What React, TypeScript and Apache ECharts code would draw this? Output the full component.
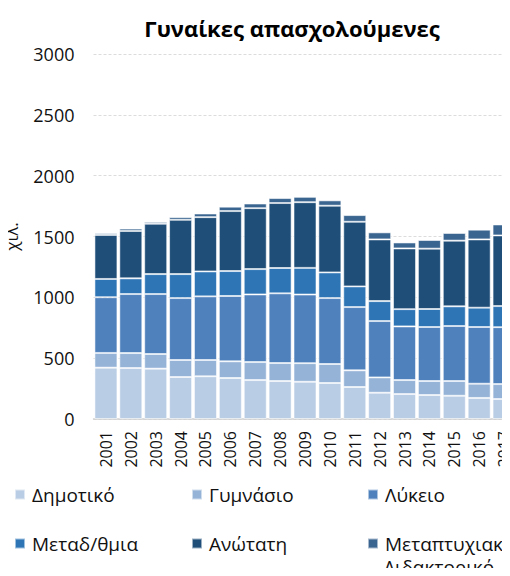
import React, { useEffect, useRef } from "react";
import * as echarts from "echarts";

const years = ["2001","2002","2003","2004","2005","2006","2007","2008","2009","2010","2011","2012","2013","2014","2015","2016","2017"];
const seriesNames = ["Δημοτικό","Γυμνάσιο","Λύκειο","Μεταδ/θμια","Ανώτατη","Μεταπτυχιακό Διδακτορικό"];
const dimotiko = [422,419,414,345,351,337,320,312,306,296,263,216,205,197,191,173,164];
const gymnasio = [121,123,120,140,134,137,148,148,153,156,137,126,115,115,121,117,123];
const lykeio = [458,485,493,509,523,537,556,573,564,542,520,463,441,444,452,466,468];
const metadthmia = [150,129,164,197,205,205,208,208,219,211,170,164,142,148,162,159,173];
const anotati = [362,389,414,446,446,493,501,534,540,548,531,507,499,496,540,561,581];
const metaptyxiako = [14,20,15,22,30,36,38,41,44,44,55,58,49,71,63,80,90];
const colors = ["#B9CDE5","#95B3D7","#4F81BD","#2E75B6","#1F4E79","#3A6590"];
const yTicks = [0, 500, 1000, 1500, 2000, 2500, 3000];

const FONT = "'Open Sans', sans-serif";

export default function App() {
  const ref = useRef<HTMLDivElement>(null);
  useEffect(() => {
    if (!ref.current) return;
    const chart = echarts.init(ref.current, undefined, { renderer: "svg" });
    const data = [dimotiko, gymnasio, lykeio, metadthmia, anotati, metaptyxiako];
    const legendPos = [
      { left: 14, top: 485 },
      { left: 191, top: 485 },
      { left: 367, top: 485 },
      { left: 14, top: 534 },
      { left: 191, top: 534 },
      { left: 367, top: 534 },
    ];
    chart.setOption({
      animation: false,
      title: {
        text: "Γυναίκες απασχολούμενες",
        left: 287,
        textAlign: "center",
        top: 12,
        textStyle: { fontFamily: FONT, fontSize: 22, fontWeight: "bold", color: "#000" },
      },
      legend: seriesNames.map((n, i) => ({
        data: [n],
        left: legendPos[i].left,
        top: legendPos[i].top,
        padding: 0,
        itemWidth: 10,
        itemHeight: 10,
        itemGap: 0,
        icon: "rect",
        formatter: (name: string) => (i === 5 ? name.split(" ")[0] : name),
        textStyle: { fontFamily: FONT, fontSize: 19, color: "#111", padding: [0, 0, 0, 2] },
      })),
      graphic: [
        {
          type: "text",
          left: 384,
          top: 557,
          style: { text: seriesNames[5].split(" ")[1], fontFamily: FONT, fontSize: 19, fill: "#111" },
        },
      ],
      grid: { left: 93.5, top: 54, width: 423, height: 365, outerBoundsMode: "none" },
      xAxis: {
        type: "category",
        data: years,
        axisLine: { lineStyle: { color: "#d0d0d0", width: 1.5 } },
        axisTick: { show: false },
        axisLabel: { rotate: 90, fontFamily: FONT, fontSize: 16, color: "#111", margin: 12 },
      },
      yAxis: {
        type: "value",
        min: yTicks[0],
        max: yTicks[yTicks.length - 1],
        interval: 500,
        name: "χιλ.",
        nameLocation: "middle",
        nameGap: 74,
        nameRotate: 90,
        nameTextStyle: { fontFamily: FONT, fontSize: 17, color: "#111" },
        axisLine: { show: false },
        axisTick: { show: false },
        axisLabel: { fontFamily: FONT, fontSize: 18, color: "#111", margin: 19, formatter: (v: number) => String(v) },
        splitLine: { lineStyle: { color: "#dcdcdc", type: [3, 2] } },
      },
      series: seriesNames.map((n, i) => ({
        name: n,
        type: "bar",
        stack: "total",
        data: data[i],
        barWidth: 23,
        itemStyle: { color: colors[i], borderColor: "rgba(255,255,255,0.55)", borderWidth: 1 },
      })),
    });
    return () => chart.dispose();
  }, []);
  return <div ref={ref} style={{ width: 510, height: 576, margin: -8 }} />;
}
